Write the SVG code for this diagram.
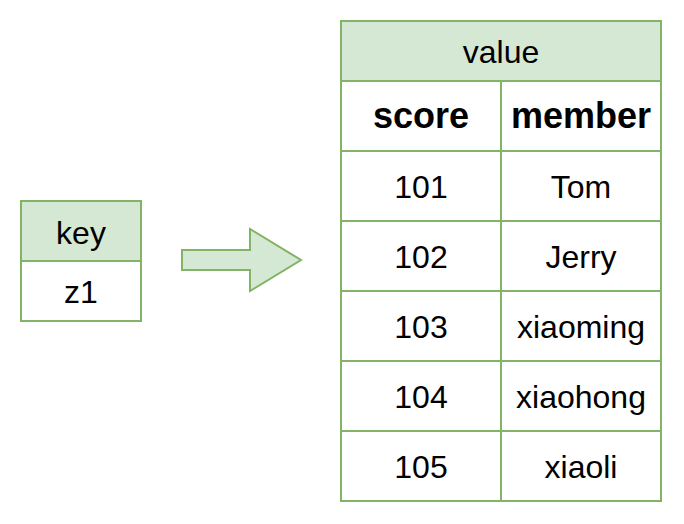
<svg xmlns="http://www.w3.org/2000/svg" width="684" height="524" viewBox="0 0 684 524">
<style>
.g{stroke:#82b366;stroke-width:2}
.h{fill:#d5e8d4}
.w{fill:#ffffff}
text{font-family:"Liberation Sans",Arial,sans-serif;font-size:32px;fill:#000;text-anchor:middle}
.b{font-weight:bold;font-size:36px}
</style>
<rect width="684" height="524" fill="#ffffff"/>
<g id="key">
<rect class="g h" x="21" y="201" width="120" height="60"/>
<rect class="g w" x="21" y="261" width="120" height="60"/>
<text x="81" y="244">key</text>
<text x="81" y="303">z1</text>
</g>
<g id="connectors">
<polygon class="g h" points="182,250 250,250 250,229 301,260 250,291 250,270 182,270"/>
</g>
<g id="value">
<rect class="g h" x="341" y="21" width="320" height="60"/>
<text x="501" y="63">value</text>
<rect class="g w" x="341" y="81" width="160" height="70"/>
<rect class="g w" x="501" y="81" width="160" height="70"/>
<text class="b" x="421" y="128">score</text>
<text class="b" x="581" y="128">member</text>
<rect class="g w" x="341" y="151" width="160" height="70"/>
<rect class="g w" x="501" y="151" width="160" height="70"/>
<text x="421" y="198">101</text>
<text x="581" y="198">Tom</text>
<rect class="g w" x="341" y="221" width="160" height="70"/>
<rect class="g w" x="501" y="221" width="160" height="70"/>
<text x="421" y="268">102</text>
<text x="581" y="268">Jerry</text>
<rect class="g w" x="341" y="291" width="160" height="70"/>
<rect class="g w" x="501" y="291" width="160" height="70"/>
<text x="421" y="338">103</text>
<text x="581" y="338">xiaoming</text>
<rect class="g w" x="341" y="361" width="160" height="70"/>
<rect class="g w" x="501" y="361" width="160" height="70"/>
<text x="421" y="408">104</text>
<text x="581" y="408">xiaohong</text>
<rect class="g w" x="341" y="431" width="160" height="70"/>
<rect class="g w" x="501" y="431" width="160" height="70"/>
<text x="421" y="478">105</text>
<text x="581" y="478">xiaoli</text>
</g>
</svg>
